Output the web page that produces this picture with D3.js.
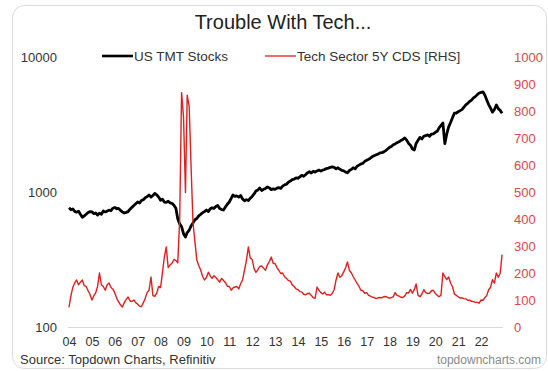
<!DOCTYPE html>
<html>
<head>
<meta charset="utf-8">
<script src="https://cdn.jsdelivr.net/npm/d3@7/dist/d3.min.js"></script>
<style>
  html, body { margin: 0; padding: 0; background: #ffffff; }
  svg { display: block; font-family: "Liberation Sans", Arial, sans-serif; }
</style>
</head>
<body>
<svg id="chart" width="548" height="371"></svg>
<script>
// Monthly observations, Jan 2004 .. Dec 2022
const firstMonth = new Date(2004, 0, 1);
const lastMonth = new Date(2022, 11, 1);

// US TMT stocks index level (left axis, log scale)
const tmt = [
  770, 745, 755, 725, 715, 728, 690, 655, 672, 690, 712, 722,            // 2004
  718, 698, 705, 680, 702, 690, 730, 718, 728, 740, 735, 765,            // 2005
  775, 758, 762, 738, 718, 705, 712, 722, 752, 776, 800, 825,            // 2006
  850, 835, 872, 885, 915, 932, 958, 925, 950, 985, 962, 925,            // 2007
  875, 892, 850, 845, 862, 838, 832, 805, 765, 640, 585, 560,            // 2008
  495, 468, 505, 525, 565, 595, 628, 642, 672, 688, 708, 722,            // 2009
  742, 722, 755, 770, 762, 788, 802, 760, 748, 742, 782, 818,            // 2010
  850, 905, 958, 935, 945, 925, 950, 895, 868, 885, 872, 905,            // 2011
  935, 975, 1025, 1045, 1080, 1035, 1055, 1072, 1100, 1082, 1050, 1065,  // 2012
  1055, 1078, 1088, 1072, 1115, 1138, 1152, 1192, 1215, 1245, 1255, 1285, // 2013
  1275, 1305, 1340, 1318, 1355, 1398, 1425, 1395, 1435, 1415, 1445, 1465, // 2014
  1440, 1468, 1478, 1505, 1515, 1535, 1545, 1535, 1495, 1525, 1485, 1460, // 2015
  1445, 1415, 1400, 1455, 1485, 1525, 1498, 1565, 1595, 1625, 1645, 1700, // 2016
  1735, 1765, 1795, 1845, 1875, 1905, 1925, 1965, 1975, 2000, 2045, 2100, // 2017
  2160, 2195, 2255, 2290, 2340, 2375, 2425, 2470, 2535, 2445, 2310, 2240, // 2018
  2100, 2065, 2310, 2440, 2560, 2490, 2610, 2640, 2670, 2610, 2710, 2720, // 2019
  2790, 2840, 3010, 3140, 3273, 2300, 2700, 3060, 3300, 3580, 3870, 3880, // 2020
  3960, 4040, 4110, 4280, 4460, 4580, 4720, 4830, 5020, 5130, 5310, 5460, // 2021
  5510, 5560, 5280, 4850, 4480, 4220, 3940, 4120, 4450, 4180, 4060, 3870  // 2022
];

// Tech sector 5Y CDS spread (right axis)
const cds = [
  75, 118, 148, 165, 176, 158, 168, 176, 155, 152, 136, 122,           // 2004
  102, 118, 128, 152, 202, 158, 152, 138, 158, 165, 148, 142,          // 2005
  128, 108, 96, 84, 76, 92, 104, 113, 98, 96, 102, 92,                 // 2006
  86, 79, 77, 92, 108, 130, 138, 187, 118, 115, 128, 152,              // 2007
  148, 205, 261, 298, 222, 232, 238, 252, 248, 240, 400, 870,          // 2008
  780, 500, 860, 820, 600, 390, 320, 250, 230, 213, 190, 176,          // 2009
  185, 205, 192, 182, 192, 185, 177, 168, 182, 174, 166, 153,          // 2010
  152, 138, 147, 150, 152, 143, 162, 176, 212, 248, 298, 258,          // 2011
  252, 218, 204, 214, 226, 228, 220, 212, 232, 244, 261, 238,          // 2012
  236, 222, 212, 200, 202, 188, 182, 174, 172, 158, 152, 143,          // 2013
  140, 133, 132, 123, 121, 126, 127, 119, 111, 108, 150, 138,          // 2014
  129, 124, 131, 121, 122, 119, 126, 140, 176, 202, 186, 192,          // 2015
  206, 222, 243, 211, 203, 188, 176, 163, 152, 138, 136, 127,          // 2016
  129, 119, 116, 112, 111, 107, 110, 111, 110, 114, 115, 111,          // 2017
  109, 111, 114, 129, 119, 116, 112, 111, 117, 129, 128, 141,          // 2018
  127, 141, 161, 119, 114, 124, 140, 129, 126, 127, 136, 138,          // 2019
  126, 119, 114, 120, 202, 188, 177, 187, 164, 151, 124, 119,          // 2020
  114, 109, 110, 107, 106, 101, 101, 97, 96, 93, 93, 90,               // 2021
  102, 101, 110, 119, 140, 149, 177, 164, 202, 186, 201, 270           // 2022
];

const yearTicks = d3.range(2004, 2023).map(y => new Date(y, 0, 1));
const leftTicks = [100, 1000, 10000];
const rightTicks = d3.range(0, 1001, 100);

const titleText = "Trouble With Tech...";
const seriesNames = ["US TMT Stocks", "Tech Sector 5Y CDS [RHS]"];
const sourceText = "Source: Topdown Charts, Refinitiv";
const brandText = "topdowncharts.com";

// ---- drawing ----
const months = d3.timeMonth.range(firstMonth, d3.timeMonth.offset(lastMonth, 1));
const tmtData = months.map((d, i) => ({ date: d, value: tmt[i] }));
const cdsData = months.map((d, i) => ({ date: d, value: cds[i] }));

const black = "#000000";
const red = "#e0201b";
const redText = "#e34545";
const textColor = "#333333";

const svg = d3.select("#chart");

// card frame
svg.append("rect")
  .attr("x", 12.5).attr("y", 5.5)
  .attr("width", 534).attr("height", 363)
  .attr("rx", 12).attr("ry", 12)
  .attr("fill", "#ffffff")
  .attr("stroke", "#dcdcdc")
  .attr("stroke-width", 1);

const x = d3.scaleTime()
  .domain([new Date(2004, 0, 1), new Date(2023, 0, 1)])
  .range([69, 504]);
const yL = d3.scaleLog().domain([100, 10000]).range([327.5, 57.5]);
const yR = d3.scaleLinear().domain([0, 1000]).range([327.5, 57.5]);

// title
svg.append("text")
  .attr("x", 283).attr("y", 29)
  .attr("text-anchor", "middle")
  .attr("font-size", 20)
  .attr("fill", "#222")
  .text(titleText);

// baseline
svg.append("line")
  .attr("x1", 68).attr("x2", 503)
  .attr("y1", yL(100)).attr("y2", yL(100))
  .attr("stroke", "#d9d9d9").attr("stroke-width", 1.2);

// left axis
const leftAxis = svg.append("g")
  .attr("transform", "translate(57,0)")
  .call(d3.axisLeft(yL).tickValues(leftTicks).tickSize(0).tickPadding(0).tickFormat(d3.format("d")));
leftAxis.select(".domain").remove();
leftAxis.selectAll("text").attr("font-size", 13).attr("fill", textColor)
  .attr("font-family", "Liberation Sans, Arial, sans-serif");

// right axis
const rightAxis = svg.append("g")
  .attr("transform", "translate(514,0)")
  .call(d3.axisRight(yR).tickValues(rightTicks).tickSize(0).tickPadding(0).tickFormat(d3.format("d")));
rightAxis.select(".domain").remove();
rightAxis.selectAll("text").attr("font-size", 13).attr("fill", redText)
  .attr("font-family", "Liberation Sans, Arial, sans-serif");

// bottom axis
const bottomAxis = svg.append("g")
  .attr("transform", `translate(0,${yL(100) + 10})`)
  .call(d3.axisBottom(x).tickValues(yearTicks).tickSize(0).tickPadding(0).tickFormat(d3.timeFormat("%y")));
bottomAxis.select(".domain").remove();
bottomAxis.selectAll("text").attr("font-size", 12.5).attr("fill", textColor)
  .attr("font-family", "Liberation Sans, Arial, sans-serif");

// series
const lineL = d3.line().x(d => x(d.date)).y(d => yL(d.value));
const lineR = d3.line().x(d => x(d.date)).y(d => yR(d.value));

svg.append("path")
  .datum(tmtData)
  .attr("d", lineL)
  .attr("fill", "none")
  .attr("stroke", black)
  .attr("stroke-width", 2.8)
  .attr("stroke-linejoin", "round");

svg.append("path")
  .datum(cdsData)
  .attr("d", lineR)
  .attr("fill", "none")
  .attr("stroke", red)
  .attr("stroke-width", 1.4)
  .attr("stroke-linejoin", "round");

// legend
const legend = svg.append("g");
const legendItems = [
  { name: seriesNames[0], color: black, width: 2.6, x0: 102 },
  { name: seriesNames[1], color: red, width: 1.3, x0: 265 }
];
legendItems.forEach(it => {
  legend.append("line")
    .attr("x1", it.x0).attr("x2", it.x0 + 31)
    .attr("y1", 56).attr("y2", 56)
    .attr("stroke", it.color).attr("stroke-width", it.width);
  legend.append("text")
    .attr("x", it.x0 + 32).attr("y", 61)
    .attr("font-size", 13.5)
    .attr("fill", textColor)
    .text(it.name);
});

// footer
svg.append("text")
  .attr("x", 20).attr("y", 364)
  .attr("font-size", 13)
  .attr("fill", textColor)
  .text(sourceText);
svg.append("text")
  .attr("x", 541).attr("y", 364)
  .attr("text-anchor", "end")
  .attr("font-size", 12)
  .attr("fill", "#8a8a8a")
  .text(brandText);
</script>
</body>
</html>
